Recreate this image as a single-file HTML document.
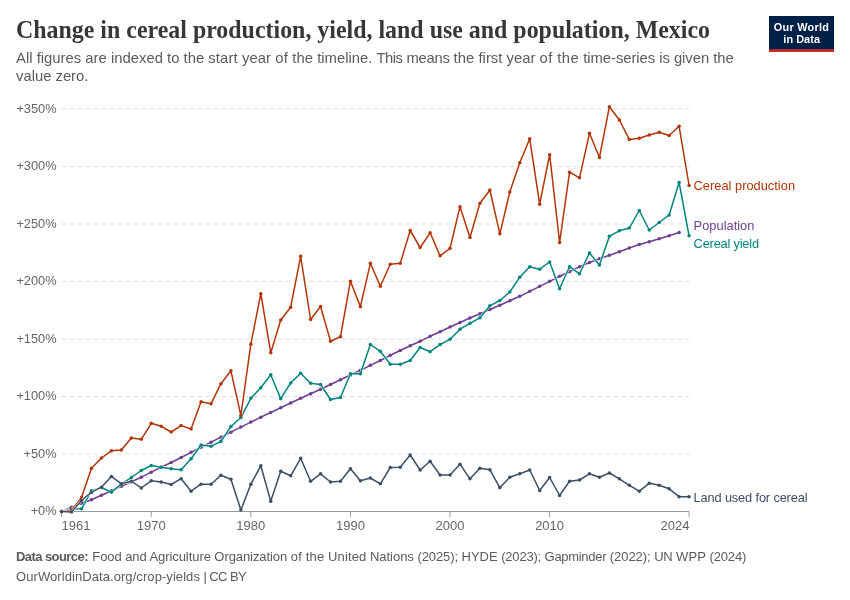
<!DOCTYPE html>
<html lang="en"><head><meta charset="utf-8"><title>Change in cereal production, yield, land use and population, Mexico</title>
<style>
html,body{margin:0;padding:0;background:#fff;}
body{width:850px;height:600px;overflow:hidden;position:relative;font-family:"Liberation Sans",sans-serif;}
svg{position:absolute;left:0;top:0;}
.title{font-family:"Liberation Serif",serif;font-weight:bold;font-size:24px;fill:#373737;}
.sub{font-size:14.8px;fill:#5b5b5b;}
.ax{font-size:13px;fill:#666;}
.ay{font-size:12.8px;fill:#666;}
.lab{font-size:12.8px;}
.foot{font-size:13px;fill:#5b5b5b;}
.logo{font-size:10.9px;font-weight:bold;fill:#fff;}
</style></head><body>
<svg width="850" height="600" viewBox="0 0 850 600" font-family="Liberation Sans, sans-serif">
<rect width="850" height="600" fill="#fff"/>
<text class="title" transform="translate(16 38.2) scale(1 1.03)" textLength="694" lengthAdjust="spacingAndGlyphs">Change in cereal production, yield, land use and population, Mexico</text>
<text class="sub" y="63.1"><tspan x="16" textLength="192.3">All figures are indexed to the </tspan><tspan x="208.3" textLength="108.9">start year of the </tspan><tspan x="317.2" textLength="59.3">timeline. </tspan><tspan x="376.5" textLength="30.1">This </tspan><tspan x="406.6" textLength="47.0">means </tspan><tspan x="453.6" textLength="86.0">the first year </tspan><tspan x="539.6" textLength="43.6">of the </tspan><tspan x="583.2" textLength="150.5">time-series is given the</tspan></text>
<text class="sub" x="16" y="80.6">value zero.</text>
<g>
<rect x="769" y="16" width="65" height="35.7" fill="#002147"/>
<rect x="769" y="49.1" width="65" height="2.6" fill="#ce261e"/>
<text class="logo" x="773.8" y="30.6" textLength="55.2">Our World</text>
<text class="logo" x="783.3" y="42.6" textLength="36.7">in Data</text>
</g>
<g>
<line x1="61.6" x2="689.1" y1="454.0" y2="454.0" stroke="#ddd" stroke-width="1" stroke-dasharray="4,4"/>
<line x1="61.6" x2="689.1" y1="396.5" y2="396.5" stroke="#ddd" stroke-width="1" stroke-dasharray="4,4"/>
<line x1="61.6" x2="689.1" y1="339.0" y2="339.0" stroke="#ddd" stroke-width="1" stroke-dasharray="4,4"/>
<line x1="61.6" x2="689.1" y1="281.5" y2="281.5" stroke="#ddd" stroke-width="1" stroke-dasharray="4,4"/>
<line x1="61.6" x2="689.1" y1="224.0" y2="224.0" stroke="#ddd" stroke-width="1" stroke-dasharray="4,4"/>
<line x1="61.6" x2="689.1" y1="166.5" y2="166.5" stroke="#ddd" stroke-width="1" stroke-dasharray="4,4"/>
<line x1="61.6" x2="689.1" y1="109.0" y2="109.0" stroke="#ddd" stroke-width="1" stroke-dasharray="4,4"/>
</g>
<g class="ay">
<text x="56.6" y="515" text-anchor="end">+0%</text>
<text x="56.6" y="458" text-anchor="end">+50%</text>
<text x="56.6" y="400" text-anchor="end">+100%</text>
<text x="56.6" y="343" text-anchor="end">+150%</text>
<text x="56.6" y="285" text-anchor="end">+200%</text>
<text x="56.6" y="228" text-anchor="end">+250%</text>
<text x="56.6" y="170" text-anchor="end">+300%</text>
<text x="56.6" y="113" text-anchor="end">+350%</text>
</g>
<g stroke="#999" stroke-width="1" fill="none">
<line x1="61.6" x2="689.1" y1="511.5" y2="511.5"/>
<line x1="61.6" x2="61.6" y1="511.5" y2="517"/>
<line x1="151.2" x2="151.2" y1="511.5" y2="517"/>
<line x1="250.8" x2="250.8" y1="511.5" y2="517"/>
<line x1="350.4" x2="350.4" y1="511.5" y2="517"/>
<line x1="450.0" x2="450.0" y1="511.5" y2="517"/>
<line x1="549.6" x2="549.6" y1="511.5" y2="517"/>
<line x1="689.1" x2="689.1" y1="511.5" y2="517"/>
</g>
<g class="ax">
<text x="61.6" y="530.4">1961</text>
<text x="151.2" y="530.4" text-anchor="middle">1970</text>
<text x="250.8" y="530.4" text-anchor="middle">1980</text>
<text x="350.4" y="530.4" text-anchor="middle">1990</text>
<text x="450.0" y="530.4" text-anchor="middle">2000</text>
<text x="549.6" y="530.4" text-anchor="middle">2010</text>
<text x="689.5" y="530.4" text-anchor="end">2024</text>
</g>
<g fill="#6D3E91" stroke="none"><polyline points="61.60,511.5 71.56,507.2 81.52,503.3 91.48,499.7 101.44,495.3 111.40,490.8 121.36,486.3 131.32,481.7 141.28,477.2 151.24,472.2 161.20,467.2 171.16,462.5 181.12,457.5 191.08,452.3 201.04,447.2 211.00,442.2 220.96,437.2 230.92,432.2 240.88,427.1 250.84,422.1 260.80,417.2 270.76,412.5 280.72,407.8 290.68,403.0 300.64,398.3 310.60,393.7 320.56,389.2 330.52,384.5 340.48,379.7 350.44,375.0 360.40,370.3 370.36,365.3 380.32,360.5 390.28,355.3 400.24,350.5 410.20,345.8 420.16,341.2 430.12,336.3 440.08,331.7 450.04,327.0 460.00,322.5 469.96,318.0 479.92,313.7 489.88,309.5 499.84,305.3 509.80,300.8 519.76,296.3 529.72,291.3 539.68,286.3 549.64,281.3 559.60,276.3 569.56,271.7 579.52,266.7 589.48,262.5 599.44,258.8 609.40,255.3 619.36,251.7 629.32,248.0 639.28,244.5 649.24,241.7 659.20,238.8 669.16,235.8 679.12,232.5" fill="none" stroke="#fff" stroke-width="2.5" stroke-linejoin="round" stroke-linecap="round"/><polyline points="61.60,511.5 71.56,507.2 81.52,503.3 91.48,499.7 101.44,495.3 111.40,490.8 121.36,486.3 131.32,481.7 141.28,477.2 151.24,472.2 161.20,467.2 171.16,462.5 181.12,457.5 191.08,452.3 201.04,447.2 211.00,442.2 220.96,437.2 230.92,432.2 240.88,427.1 250.84,422.1 260.80,417.2 270.76,412.5 280.72,407.8 290.68,403.0 300.64,398.3 310.60,393.7 320.56,389.2 330.52,384.5 340.48,379.7 350.44,375.0 360.40,370.3 370.36,365.3 380.32,360.5 390.28,355.3 400.24,350.5 410.20,345.8 420.16,341.2 430.12,336.3 440.08,331.7 450.04,327.0 460.00,322.5 469.96,318.0 479.92,313.7 489.88,309.5 499.84,305.3 509.80,300.8 519.76,296.3 529.72,291.3 539.68,286.3 549.64,281.3 559.60,276.3 569.56,271.7 579.52,266.7 589.48,262.5 599.44,258.8 609.40,255.3 619.36,251.7 629.32,248.0 639.28,244.5 649.24,241.7 659.20,238.8 669.16,235.8 679.12,232.5" fill="none" stroke="#6D3E91" stroke-width="1.5" stroke-linejoin="round" stroke-linecap="round"/><circle cx="61.60" cy="511.5" r="1.75"/><circle cx="71.56" cy="507.2" r="1.75"/><circle cx="81.52" cy="503.3" r="1.75"/><circle cx="91.48" cy="499.7" r="1.75"/><circle cx="101.44" cy="495.3" r="1.75"/><circle cx="111.40" cy="490.8" r="1.75"/><circle cx="121.36" cy="486.3" r="1.75"/><circle cx="131.32" cy="481.7" r="1.75"/><circle cx="141.28" cy="477.2" r="1.75"/><circle cx="151.24" cy="472.2" r="1.75"/><circle cx="161.20" cy="467.2" r="1.75"/><circle cx="171.16" cy="462.5" r="1.75"/><circle cx="181.12" cy="457.5" r="1.75"/><circle cx="191.08" cy="452.3" r="1.75"/><circle cx="201.04" cy="447.2" r="1.75"/><circle cx="211.00" cy="442.2" r="1.75"/><circle cx="220.96" cy="437.2" r="1.75"/><circle cx="230.92" cy="432.2" r="1.75"/><circle cx="240.88" cy="427.1" r="1.75"/><circle cx="250.84" cy="422.1" r="1.75"/><circle cx="260.80" cy="417.2" r="1.75"/><circle cx="270.76" cy="412.5" r="1.75"/><circle cx="280.72" cy="407.8" r="1.75"/><circle cx="290.68" cy="403.0" r="1.75"/><circle cx="300.64" cy="398.3" r="1.75"/><circle cx="310.60" cy="393.7" r="1.75"/><circle cx="320.56" cy="389.2" r="1.75"/><circle cx="330.52" cy="384.5" r="1.75"/><circle cx="340.48" cy="379.7" r="1.75"/><circle cx="350.44" cy="375.0" r="1.75"/><circle cx="360.40" cy="370.3" r="1.75"/><circle cx="370.36" cy="365.3" r="1.75"/><circle cx="380.32" cy="360.5" r="1.75"/><circle cx="390.28" cy="355.3" r="1.75"/><circle cx="400.24" cy="350.5" r="1.75"/><circle cx="410.20" cy="345.8" r="1.75"/><circle cx="420.16" cy="341.2" r="1.75"/><circle cx="430.12" cy="336.3" r="1.75"/><circle cx="440.08" cy="331.7" r="1.75"/><circle cx="450.04" cy="327.0" r="1.75"/><circle cx="460.00" cy="322.5" r="1.75"/><circle cx="469.96" cy="318.0" r="1.75"/><circle cx="479.92" cy="313.7" r="1.75"/><circle cx="489.88" cy="309.5" r="1.75"/><circle cx="499.84" cy="305.3" r="1.75"/><circle cx="509.80" cy="300.8" r="1.75"/><circle cx="519.76" cy="296.3" r="1.75"/><circle cx="529.72" cy="291.3" r="1.75"/><circle cx="539.68" cy="286.3" r="1.75"/><circle cx="549.64" cy="281.3" r="1.75"/><circle cx="559.60" cy="276.3" r="1.75"/><circle cx="569.56" cy="271.7" r="1.75"/><circle cx="579.52" cy="266.7" r="1.75"/><circle cx="589.48" cy="262.5" r="1.75"/><circle cx="599.44" cy="258.8" r="1.75"/><circle cx="609.40" cy="255.3" r="1.75"/><circle cx="619.36" cy="251.7" r="1.75"/><circle cx="629.32" cy="248.0" r="1.75"/><circle cx="639.28" cy="244.5" r="1.75"/><circle cx="649.24" cy="241.7" r="1.75"/><circle cx="659.20" cy="238.8" r="1.75"/><circle cx="669.16" cy="235.8" r="1.75"/><circle cx="679.12" cy="232.5" r="1.75"/></g>
<g fill="#00847E" stroke="none"><polyline points="61.60,511.5 71.56,509.0 81.52,508.8 91.48,490.8 101.44,487.5 111.40,492.2 121.36,484.2 131.32,477.5 141.28,470.5 151.24,465.5 161.20,467.2 171.16,468.7 181.12,469.8 191.08,458.8 201.04,445.0 211.00,446.3 220.96,441.3 230.92,426.5 240.88,417.5 250.84,398.3 260.80,387.8 270.76,374.7 280.72,398.7 290.68,383.0 300.64,373.3 310.60,383.3 320.56,384.5 330.52,399.5 340.48,397.5 350.44,373.8 360.40,373.7 370.36,344.5 380.32,351.3 390.28,364.2 400.24,364.2 410.20,360.5 420.16,347.5 430.12,351.7 440.08,344.6 450.04,339.2 460.00,329.2 469.96,323.3 479.92,317.8 489.88,305.8 499.84,300.5 509.80,292.0 519.76,277.2 529.72,266.7 539.68,269.2 549.64,262.0 559.60,288.8 569.56,266.7 579.52,273.8 589.48,253.0 599.44,265.0 609.40,236.2 619.36,230.8 629.32,228.0 639.28,210.5 649.24,230.0 659.20,222.5 669.16,215.0 679.12,182.5 689.08,235.8" fill="none" stroke="#fff" stroke-width="2.5" stroke-linejoin="round" stroke-linecap="round"/><polyline points="61.60,511.5 71.56,509.0 81.52,508.8 91.48,490.8 101.44,487.5 111.40,492.2 121.36,484.2 131.32,477.5 141.28,470.5 151.24,465.5 161.20,467.2 171.16,468.7 181.12,469.8 191.08,458.8 201.04,445.0 211.00,446.3 220.96,441.3 230.92,426.5 240.88,417.5 250.84,398.3 260.80,387.8 270.76,374.7 280.72,398.7 290.68,383.0 300.64,373.3 310.60,383.3 320.56,384.5 330.52,399.5 340.48,397.5 350.44,373.8 360.40,373.7 370.36,344.5 380.32,351.3 390.28,364.2 400.24,364.2 410.20,360.5 420.16,347.5 430.12,351.7 440.08,344.6 450.04,339.2 460.00,329.2 469.96,323.3 479.92,317.8 489.88,305.8 499.84,300.5 509.80,292.0 519.76,277.2 529.72,266.7 539.68,269.2 549.64,262.0 559.60,288.8 569.56,266.7 579.52,273.8 589.48,253.0 599.44,265.0 609.40,236.2 619.36,230.8 629.32,228.0 639.28,210.5 649.24,230.0 659.20,222.5 669.16,215.0 679.12,182.5 689.08,235.8" fill="none" stroke="#00847E" stroke-width="1.5" stroke-linejoin="round" stroke-linecap="round"/><circle cx="61.60" cy="511.5" r="1.75"/><circle cx="71.56" cy="509.0" r="1.75"/><circle cx="81.52" cy="508.8" r="1.75"/><circle cx="91.48" cy="490.8" r="1.75"/><circle cx="101.44" cy="487.5" r="1.75"/><circle cx="111.40" cy="492.2" r="1.75"/><circle cx="121.36" cy="484.2" r="1.75"/><circle cx="131.32" cy="477.5" r="1.75"/><circle cx="141.28" cy="470.5" r="1.75"/><circle cx="151.24" cy="465.5" r="1.75"/><circle cx="161.20" cy="467.2" r="1.75"/><circle cx="171.16" cy="468.7" r="1.75"/><circle cx="181.12" cy="469.8" r="1.75"/><circle cx="191.08" cy="458.8" r="1.75"/><circle cx="201.04" cy="445.0" r="1.75"/><circle cx="211.00" cy="446.3" r="1.75"/><circle cx="220.96" cy="441.3" r="1.75"/><circle cx="230.92" cy="426.5" r="1.75"/><circle cx="240.88" cy="417.5" r="1.75"/><circle cx="250.84" cy="398.3" r="1.75"/><circle cx="260.80" cy="387.8" r="1.75"/><circle cx="270.76" cy="374.7" r="1.75"/><circle cx="280.72" cy="398.7" r="1.75"/><circle cx="290.68" cy="383.0" r="1.75"/><circle cx="300.64" cy="373.3" r="1.75"/><circle cx="310.60" cy="383.3" r="1.75"/><circle cx="320.56" cy="384.5" r="1.75"/><circle cx="330.52" cy="399.5" r="1.75"/><circle cx="340.48" cy="397.5" r="1.75"/><circle cx="350.44" cy="373.8" r="1.75"/><circle cx="360.40" cy="373.7" r="1.75"/><circle cx="370.36" cy="344.5" r="1.75"/><circle cx="380.32" cy="351.3" r="1.75"/><circle cx="390.28" cy="364.2" r="1.75"/><circle cx="400.24" cy="364.2" r="1.75"/><circle cx="410.20" cy="360.5" r="1.75"/><circle cx="420.16" cy="347.5" r="1.75"/><circle cx="430.12" cy="351.7" r="1.75"/><circle cx="440.08" cy="344.6" r="1.75"/><circle cx="450.04" cy="339.2" r="1.75"/><circle cx="460.00" cy="329.2" r="1.75"/><circle cx="469.96" cy="323.3" r="1.75"/><circle cx="479.92" cy="317.8" r="1.75"/><circle cx="489.88" cy="305.8" r="1.75"/><circle cx="499.84" cy="300.5" r="1.75"/><circle cx="509.80" cy="292.0" r="1.75"/><circle cx="519.76" cy="277.2" r="1.75"/><circle cx="529.72" cy="266.7" r="1.75"/><circle cx="539.68" cy="269.2" r="1.75"/><circle cx="549.64" cy="262.0" r="1.75"/><circle cx="559.60" cy="288.8" r="1.75"/><circle cx="569.56" cy="266.7" r="1.75"/><circle cx="579.52" cy="273.8" r="1.75"/><circle cx="589.48" cy="253.0" r="1.75"/><circle cx="599.44" cy="265.0" r="1.75"/><circle cx="609.40" cy="236.2" r="1.75"/><circle cx="619.36" cy="230.8" r="1.75"/><circle cx="629.32" cy="228.0" r="1.75"/><circle cx="639.28" cy="210.5" r="1.75"/><circle cx="649.24" cy="230.0" r="1.75"/><circle cx="659.20" cy="222.5" r="1.75"/><circle cx="669.16" cy="215.0" r="1.75"/><circle cx="679.12" cy="182.5" r="1.75"/><circle cx="689.08" cy="235.8" r="1.75"/></g>
<g fill="#B13507" stroke="none"><polyline points="61.60,511.5 71.56,510.2 81.52,497.6 91.48,468.3 101.44,458.0 111.40,450.8 121.36,450.0 131.32,438.0 141.28,439.3 151.24,423.3 161.20,426.3 171.16,432.0 181.12,425.6 191.08,429.0 201.04,401.7 211.00,403.8 220.96,383.7 230.92,370.8 240.88,415.5 250.84,344.2 260.80,293.7 270.76,352.8 280.72,320.0 290.68,307.2 300.64,256.3 310.60,319.5 320.56,306.5 330.52,341.2 340.48,336.7 350.44,281.2 360.40,306.7 370.36,263.3 380.32,286.2 390.28,264.2 400.24,263.3 410.20,230.5 420.16,247.5 430.12,232.8 440.08,255.8 450.04,248.3 460.00,206.7 469.96,237.5 479.92,203.3 489.88,190.0 499.84,233.8 509.80,192.0 519.76,162.7 529.72,138.8 539.68,204.2 549.64,154.7 559.60,242.5 569.56,172.2 579.52,177.8 589.48,133.3 599.44,157.5 609.40,106.7 619.36,120.0 629.32,139.4 639.28,138.2 649.24,135.0 659.20,132.2 669.16,135.5 679.12,126.3 689.08,185.5" fill="none" stroke="#fff" stroke-width="2.5" stroke-linejoin="round" stroke-linecap="round"/><polyline points="61.60,511.5 71.56,510.2 81.52,497.6 91.48,468.3 101.44,458.0 111.40,450.8 121.36,450.0 131.32,438.0 141.28,439.3 151.24,423.3 161.20,426.3 171.16,432.0 181.12,425.6 191.08,429.0 201.04,401.7 211.00,403.8 220.96,383.7 230.92,370.8 240.88,415.5 250.84,344.2 260.80,293.7 270.76,352.8 280.72,320.0 290.68,307.2 300.64,256.3 310.60,319.5 320.56,306.5 330.52,341.2 340.48,336.7 350.44,281.2 360.40,306.7 370.36,263.3 380.32,286.2 390.28,264.2 400.24,263.3 410.20,230.5 420.16,247.5 430.12,232.8 440.08,255.8 450.04,248.3 460.00,206.7 469.96,237.5 479.92,203.3 489.88,190.0 499.84,233.8 509.80,192.0 519.76,162.7 529.72,138.8 539.68,204.2 549.64,154.7 559.60,242.5 569.56,172.2 579.52,177.8 589.48,133.3 599.44,157.5 609.40,106.7 619.36,120.0 629.32,139.4 639.28,138.2 649.24,135.0 659.20,132.2 669.16,135.5 679.12,126.3 689.08,185.5" fill="none" stroke="#B13507" stroke-width="1.5" stroke-linejoin="round" stroke-linecap="round"/><circle cx="61.60" cy="511.5" r="1.75"/><circle cx="71.56" cy="510.2" r="1.75"/><circle cx="81.52" cy="497.6" r="1.75"/><circle cx="91.48" cy="468.3" r="1.75"/><circle cx="101.44" cy="458.0" r="1.75"/><circle cx="111.40" cy="450.8" r="1.75"/><circle cx="121.36" cy="450.0" r="1.75"/><circle cx="131.32" cy="438.0" r="1.75"/><circle cx="141.28" cy="439.3" r="1.75"/><circle cx="151.24" cy="423.3" r="1.75"/><circle cx="161.20" cy="426.3" r="1.75"/><circle cx="171.16" cy="432.0" r="1.75"/><circle cx="181.12" cy="425.6" r="1.75"/><circle cx="191.08" cy="429.0" r="1.75"/><circle cx="201.04" cy="401.7" r="1.75"/><circle cx="211.00" cy="403.8" r="1.75"/><circle cx="220.96" cy="383.7" r="1.75"/><circle cx="230.92" cy="370.8" r="1.75"/><circle cx="240.88" cy="415.5" r="1.75"/><circle cx="250.84" cy="344.2" r="1.75"/><circle cx="260.80" cy="293.7" r="1.75"/><circle cx="270.76" cy="352.8" r="1.75"/><circle cx="280.72" cy="320.0" r="1.75"/><circle cx="290.68" cy="307.2" r="1.75"/><circle cx="300.64" cy="256.3" r="1.75"/><circle cx="310.60" cy="319.5" r="1.75"/><circle cx="320.56" cy="306.5" r="1.75"/><circle cx="330.52" cy="341.2" r="1.75"/><circle cx="340.48" cy="336.7" r="1.75"/><circle cx="350.44" cy="281.2" r="1.75"/><circle cx="360.40" cy="306.7" r="1.75"/><circle cx="370.36" cy="263.3" r="1.75"/><circle cx="380.32" cy="286.2" r="1.75"/><circle cx="390.28" cy="264.2" r="1.75"/><circle cx="400.24" cy="263.3" r="1.75"/><circle cx="410.20" cy="230.5" r="1.75"/><circle cx="420.16" cy="247.5" r="1.75"/><circle cx="430.12" cy="232.8" r="1.75"/><circle cx="440.08" cy="255.8" r="1.75"/><circle cx="450.04" cy="248.3" r="1.75"/><circle cx="460.00" cy="206.7" r="1.75"/><circle cx="469.96" cy="237.5" r="1.75"/><circle cx="479.92" cy="203.3" r="1.75"/><circle cx="489.88" cy="190.0" r="1.75"/><circle cx="499.84" cy="233.8" r="1.75"/><circle cx="509.80" cy="192.0" r="1.75"/><circle cx="519.76" cy="162.7" r="1.75"/><circle cx="529.72" cy="138.8" r="1.75"/><circle cx="539.68" cy="204.2" r="1.75"/><circle cx="549.64" cy="154.7" r="1.75"/><circle cx="559.60" cy="242.5" r="1.75"/><circle cx="569.56" cy="172.2" r="1.75"/><circle cx="579.52" cy="177.8" r="1.75"/><circle cx="589.48" cy="133.3" r="1.75"/><circle cx="599.44" cy="157.5" r="1.75"/><circle cx="609.40" cy="106.7" r="1.75"/><circle cx="619.36" cy="120.0" r="1.75"/><circle cx="629.32" cy="139.4" r="1.75"/><circle cx="639.28" cy="138.2" r="1.75"/><circle cx="649.24" cy="135.0" r="1.75"/><circle cx="659.20" cy="132.2" r="1.75"/><circle cx="669.16" cy="135.5" r="1.75"/><circle cx="679.12" cy="126.3" r="1.75"/><circle cx="689.08" cy="185.5" r="1.75"/></g>
<g fill="#3C4E66" stroke="none"><polyline points="61.60,511.5 71.56,512.0 81.52,500.5 91.48,492.2 101.44,487.2 111.40,476.4 121.36,483.8 131.32,481.2 141.28,488.0 151.24,480.8 161.20,482.0 171.16,484.5 181.12,478.7 191.08,491.2 201.04,484.2 211.00,484.2 220.96,475.3 230.92,479.2 240.88,510.0 250.84,484.2 260.80,465.8 270.76,501.3 280.72,471.2 290.68,475.8 300.64,458.3 310.60,481.3 320.56,473.8 330.52,482.0 340.48,481.2 350.44,468.8 360.40,480.8 370.36,478.0 380.32,483.8 390.28,467.5 400.24,467.2 410.20,455.0 420.16,470.0 430.12,461.3 440.08,475.0 450.04,475.0 460.00,464.2 469.96,478.8 479.92,468.3 489.88,469.7 499.84,487.8 509.80,477.2 519.76,473.7 529.72,470.0 539.68,490.5 549.64,477.5 559.60,495.5 569.56,481.2 579.52,480.0 589.48,473.8 599.44,477.2 609.40,473.0 619.36,478.8 629.32,485.3 639.28,491.2 649.24,483.3 659.20,485.3 669.16,488.8 679.12,496.7 689.08,496.7" fill="none" stroke="#fff" stroke-width="2.5" stroke-linejoin="round" stroke-linecap="round"/><polyline points="61.60,511.5 71.56,512.0 81.52,500.5 91.48,492.2 101.44,487.2 111.40,476.4 121.36,483.8 131.32,481.2 141.28,488.0 151.24,480.8 161.20,482.0 171.16,484.5 181.12,478.7 191.08,491.2 201.04,484.2 211.00,484.2 220.96,475.3 230.92,479.2 240.88,510.0 250.84,484.2 260.80,465.8 270.76,501.3 280.72,471.2 290.68,475.8 300.64,458.3 310.60,481.3 320.56,473.8 330.52,482.0 340.48,481.2 350.44,468.8 360.40,480.8 370.36,478.0 380.32,483.8 390.28,467.5 400.24,467.2 410.20,455.0 420.16,470.0 430.12,461.3 440.08,475.0 450.04,475.0 460.00,464.2 469.96,478.8 479.92,468.3 489.88,469.7 499.84,487.8 509.80,477.2 519.76,473.7 529.72,470.0 539.68,490.5 549.64,477.5 559.60,495.5 569.56,481.2 579.52,480.0 589.48,473.8 599.44,477.2 609.40,473.0 619.36,478.8 629.32,485.3 639.28,491.2 649.24,483.3 659.20,485.3 669.16,488.8 679.12,496.7 689.08,496.7" fill="none" stroke="#3C4E66" stroke-width="1.5" stroke-linejoin="round" stroke-linecap="round"/><circle cx="61.60" cy="511.5" r="1.75"/><circle cx="71.56" cy="512.0" r="1.75"/><circle cx="81.52" cy="500.5" r="1.75"/><circle cx="91.48" cy="492.2" r="1.75"/><circle cx="101.44" cy="487.2" r="1.75"/><circle cx="111.40" cy="476.4" r="1.75"/><circle cx="121.36" cy="483.8" r="1.75"/><circle cx="131.32" cy="481.2" r="1.75"/><circle cx="141.28" cy="488.0" r="1.75"/><circle cx="151.24" cy="480.8" r="1.75"/><circle cx="161.20" cy="482.0" r="1.75"/><circle cx="171.16" cy="484.5" r="1.75"/><circle cx="181.12" cy="478.7" r="1.75"/><circle cx="191.08" cy="491.2" r="1.75"/><circle cx="201.04" cy="484.2" r="1.75"/><circle cx="211.00" cy="484.2" r="1.75"/><circle cx="220.96" cy="475.3" r="1.75"/><circle cx="230.92" cy="479.2" r="1.75"/><circle cx="240.88" cy="510.0" r="1.75"/><circle cx="250.84" cy="484.2" r="1.75"/><circle cx="260.80" cy="465.8" r="1.75"/><circle cx="270.76" cy="501.3" r="1.75"/><circle cx="280.72" cy="471.2" r="1.75"/><circle cx="290.68" cy="475.8" r="1.75"/><circle cx="300.64" cy="458.3" r="1.75"/><circle cx="310.60" cy="481.3" r="1.75"/><circle cx="320.56" cy="473.8" r="1.75"/><circle cx="330.52" cy="482.0" r="1.75"/><circle cx="340.48" cy="481.2" r="1.75"/><circle cx="350.44" cy="468.8" r="1.75"/><circle cx="360.40" cy="480.8" r="1.75"/><circle cx="370.36" cy="478.0" r="1.75"/><circle cx="380.32" cy="483.8" r="1.75"/><circle cx="390.28" cy="467.5" r="1.75"/><circle cx="400.24" cy="467.2" r="1.75"/><circle cx="410.20" cy="455.0" r="1.75"/><circle cx="420.16" cy="470.0" r="1.75"/><circle cx="430.12" cy="461.3" r="1.75"/><circle cx="440.08" cy="475.0" r="1.75"/><circle cx="450.04" cy="475.0" r="1.75"/><circle cx="460.00" cy="464.2" r="1.75"/><circle cx="469.96" cy="478.8" r="1.75"/><circle cx="479.92" cy="468.3" r="1.75"/><circle cx="489.88" cy="469.7" r="1.75"/><circle cx="499.84" cy="487.8" r="1.75"/><circle cx="509.80" cy="477.2" r="1.75"/><circle cx="519.76" cy="473.7" r="1.75"/><circle cx="529.72" cy="470.0" r="1.75"/><circle cx="539.68" cy="490.5" r="1.75"/><circle cx="549.64" cy="477.5" r="1.75"/><circle cx="559.60" cy="495.5" r="1.75"/><circle cx="569.56" cy="481.2" r="1.75"/><circle cx="579.52" cy="480.0" r="1.75"/><circle cx="589.48" cy="473.8" r="1.75"/><circle cx="599.44" cy="477.2" r="1.75"/><circle cx="609.40" cy="473.0" r="1.75"/><circle cx="619.36" cy="478.8" r="1.75"/><circle cx="629.32" cy="485.3" r="1.75"/><circle cx="639.28" cy="491.2" r="1.75"/><circle cx="649.24" cy="483.3" r="1.75"/><circle cx="659.20" cy="485.3" r="1.75"/><circle cx="669.16" cy="488.8" r="1.75"/><circle cx="679.12" cy="496.7" r="1.75"/><circle cx="689.08" cy="496.7" r="1.75"/></g>

<g class="lab">
<text x="693.6" y="190.4" fill="#B13507" textLength="101.4">Cereal production</text>
<text x="693.6" y="230" fill="#6D3E91" textLength="60.8">Population</text>
<text x="693.6" y="248" fill="#00847E" textLength="65.4">Cereal yield</text>
<text x="693.6" y="501.8" fill="#3C4E66" textLength="113.9">Land used for cereal</text>
</g>
<g class="foot">
<text x="16" y="561.4" font-weight="bold" textLength="72.5">Data source:</text>
<text y="561.4"><tspan x="92.3" textLength="198.5">Food and Agriculture Organization </tspan><tspan x="290.8" textLength="37.2">of the </tspan><tspan x="328" textLength="42.0">United </tspan><tspan x="370" textLength="47.4">Nations </tspan><tspan x="417.4" textLength="44.2">(2025); </tspan><tspan x="461.6" textLength="39.6">HYDE </tspan><tspan x="501.2" textLength="43.4">(2023); </tspan><tspan x="544.6" textLength="65.2">Gapminder </tspan><tspan x="609.8" textLength="44.4">(2022); </tspan><tspan x="654.2" textLength="21.8">UN </tspan><tspan x="676" textLength="33.6">WPP </tspan><tspan x="709.6" textLength="36.7">(2024)</tspan></text>
<text y="581.4"><tspan x="16" textLength="187.6">OurWorldinData.org/crop-yields </tspan><tspan x="203.6" textLength="43">| CC BY</tspan></text>
</g>
</svg>
</body></html>
